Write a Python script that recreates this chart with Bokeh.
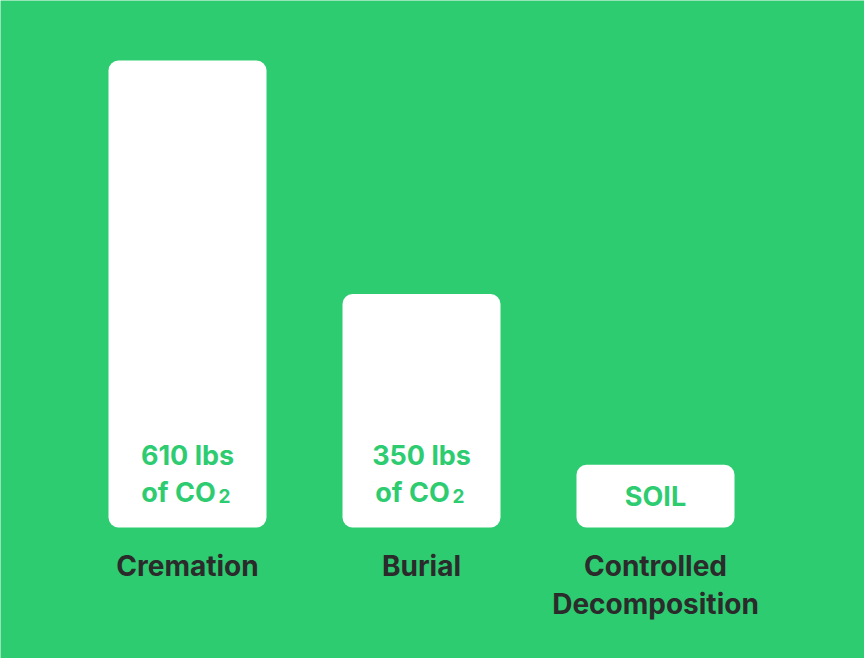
from bokeh.plotting import figure
from bokeh.models import Range1d, ColumnDataSource
from bokeh.embed import file_html
from bokeh.resources import INLINE
from bokeh.core.properties import value

# --- data ---
cat_line1 = ["Cremation", "Burial", "Controlled"]
cat_line2 = ["", "", "Decomposition"]
bar_heights = [610, 305, 82]
amount_top = ["610 lbs", "350 lbs", ""]
amount_bottom = ["of CO", "of CO", ""]
amount_sub = ["2", "2", ""]
inner_tag = ["", "", "SOIL"]

GREEN = "#2ECC71"
DARK = "#2B2B2B"
FONT = value("Inter")

W, H = 864, 658
px_per_x = 234.0
x0_px = 187.0
px_per_y = 467.0 / 610.0
base_px = H - 527.0

xs = list(range(len(cat_line1)))
src = ColumnDataSource(dict(
    x=xs, top=bar_heights, c1=cat_line1, c2=cat_line2,
    a1=amount_top, a2=amount_bottom, a3=amount_sub, tag=inner_tag,
    zero=[0] * len(xs),
    mid=[h / 2 for h in bar_heights],
))

p = figure(width=W, height=H, output_backend="svg", toolbar_location=None,
           x_range=Range1d(-x0_px / px_per_x, (W - x0_px) / px_per_x),
           y_range=Range1d(-base_px / px_per_y, (H - base_px) / px_per_y),
           min_border=0, background_fill_color=GREEN, border_fill_color=GREEN,
           outline_line_color=None)
p.axis.visible = False
p.grid.visible = False

p.vbar(x="x", top="top", bottom=0, width=158 / px_per_x, source=src,
       fill_color="white", line_color=None, border_radius=10)

common = dict(text_font=FONT, text_font_style="bold", text_align="center",
              text_baseline="middle", source=src)

p.text(x="x", y="zero", text="a1", y_offset=-72, text_color=GREEN,
       text_font_size="27px", **common)
p.text(x="x", y="zero", text="a2", y_offset=-35, x_offset=-9, text_color=GREEN,
       text_font_size="27px", **common)
p.text(x="x", y="zero", text="a3", y_offset=-32, x_offset=31, text_color=GREEN,
       text_font_size="19px", text_font=FONT, text_font_style="bold",
       text_align="left", text_baseline="middle", source=src)
p.text(x="x", y="mid", text="tag", text_color=GREEN, text_font_size="27px", **common)
p.text(x="x", y="zero", text="c1", y_offset=38, text_color=DARK,
       text_font_size="28px", **common)
p.text(x="x", y="zero", text="c2", y_offset=76, text_color=DARK,
       text_font_size="28px", **common)

html = file_html(p, INLINE)
html = html.replace("<body>", '<body style="margin:0;background:%s;">' % GREEN, 1)
open("out.html", "w").write(html)
